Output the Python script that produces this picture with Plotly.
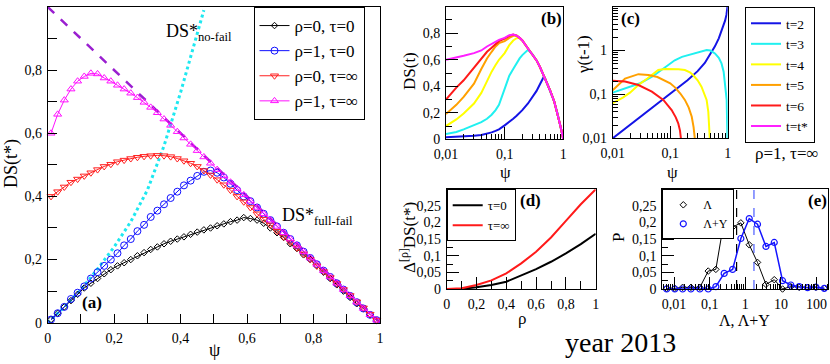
import plotly.graph_objects as go

FONT = "Liberation Serif, DejaVu Serif, serif"

# ---- panel (a): DS(t*) vs psi ----
psi_a = [0.01, 0.03, 0.05, 0.07, 0.09, 0.11, 0.13, 0.15, 0.17, 0.19,
         0.21, 0.23, 0.25, 0.27, 0.29, 0.31, 0.33, 0.35, 0.37, 0.39,
         0.41, 0.43, 0.45, 0.47, 0.49, 0.51, 0.53, 0.55, 0.57, 0.59,
         0.61, 0.63, 0.65, 0.67, 0.69, 0.71, 0.73, 0.75, 0.77, 0.79,
         0.81, 0.83, 0.85, 0.87, 0.89, 0.91, 0.93, 0.95, 0.97, 0.99]
ds_r0_t0 = [0.01, 0.03, 0.05, 0.07, 0.09, 0.11, 0.125, 0.14, 0.155, 0.168,
            0.18, 0.19, 0.20, 0.212, 0.222, 0.232, 0.24, 0.25, 0.258, 0.265,
            0.272, 0.28, 0.287, 0.294, 0.30, 0.307, 0.313, 0.32, 0.325, 0.333,
            0.33, 0.325, 0.315, 0.30, 0.285, 0.27, 0.25, 0.235, 0.215, 0.20,
            0.18, 0.16, 0.14, 0.12, 0.10, 0.08, 0.06, 0.045, 0.025, 0.008]
ds_r1_t0 = [0.01, 0.03, 0.05, 0.075, 0.095, 0.115, 0.14, 0.16, 0.18, 0.20,
            0.22, 0.245, 0.265, 0.29, 0.31, 0.335, 0.355, 0.375, 0.395, 0.415,
            0.435, 0.45, 0.465, 0.478, 0.482, 0.475, 0.46, 0.44, 0.42, 0.40,
            0.385, 0.365, 0.345, 0.325, 0.305, 0.285, 0.265, 0.245, 0.225, 0.205,
            0.185, 0.165, 0.145, 0.125, 0.105, 0.085, 0.065, 0.045, 0.025, 0.008]
ds_r0_tinf = [0.40, 0.415, 0.43, 0.445, 0.455, 0.465, 0.475, 0.485, 0.495, 0.502,
              0.51, 0.515, 0.52, 0.524, 0.527, 0.529, 0.53, 0.529, 0.526, 0.52,
              0.513, 0.505, 0.495, 0.482, 0.468, 0.453, 0.437, 0.42, 0.40, 0.383,
              0.365, 0.345, 0.328, 0.31, 0.29, 0.272, 0.255, 0.237, 0.218, 0.20,
              0.18, 0.162, 0.143, 0.124, 0.105, 0.086, 0.066, 0.047, 0.027, 0.008]
ds_r1_tinf = [0.60, 0.66, 0.705, 0.74, 0.765, 0.78, 0.79, 0.788, 0.775, 0.765,
              0.752, 0.74, 0.727, 0.713, 0.698, 0.682, 0.665, 0.645, 0.625, 0.605,
              0.585, 0.565, 0.545, 0.525, 0.505, 0.485, 0.465, 0.445, 0.425, 0.405,
              0.385, 0.365, 0.345, 0.325, 0.305, 0.285, 0.265, 0.245, 0.225, 0.205,
              0.185, 0.165, 0.145, 0.125, 0.105, 0.085, 0.065, 0.045, 0.025, 0.008]
full_fail_psi = [0.0, 1.0]
full_fail_ds = [1.0, 0.0]
no_fail_psi = [0.0, 0.05, 0.1, 0.15, 0.2, 0.25, 0.3, 0.35, 0.4, 0.45, 0.47]
no_fail_ds = [0.0, 0.05, 0.105, 0.17, 0.24, 0.32, 0.42, 0.56, 0.73, 0.92, 0.99]

# ---- panel (b): DS(t) vs psi, rho=1, tau=inf ----
psi_b = [0.01, 0.015, 0.02, 0.03, 0.04, 0.05, 0.06, 0.07, 0.08, 0.1,
         0.12, 0.14, 0.16, 0.18, 0.2, 0.25, 0.3, 0.35, 0.4, 0.45,
         0.47, 0.5, 0.6, 0.7, 0.8, 0.9, 0.95, 1.0]
ds_t2 = [0.015, 0.018, 0.021, 0.027, 0.033, 0.042, 0.052, 0.063, 0.075, 0.105,
         0.13, 0.155, 0.178, 0.2, 0.22, 0.27, 0.32, 0.365, 0.415, 0.46,
         0.475, 0.45, 0.365, 0.285, 0.19, 0.095, 0.045, 0.0]
ds_t3 = [0.04, 0.055, 0.075, 0.105, 0.13, 0.155, 0.185, 0.22, 0.26, 0.38,
         0.48, 0.53, 0.575, 0.61, 0.635, 0.675, 0.64, 0.595, 0.545, 0.495,
         0.475, 0.45, 0.365, 0.285, 0.19, 0.095, 0.045, 0.0]
ds_t4 = [0.10, 0.15, 0.195, 0.27, 0.35, 0.44, 0.51, 0.56, 0.60, 0.65,
         0.71, 0.745, 0.762, 0.765, 0.745, 0.685, 0.64, 0.595, 0.545, 0.495,
         0.475, 0.45, 0.365, 0.285, 0.19, 0.095, 0.045, 0.0]
ds_t5 = [0.19, 0.26, 0.32, 0.42, 0.53, 0.61, 0.66, 0.70, 0.725, 0.74,
         0.765, 0.78, 0.782, 0.765, 0.745, 0.685, 0.64, 0.595, 0.545, 0.495,
         0.475, 0.45, 0.365, 0.285, 0.19, 0.095, 0.045, 0.0]
ds_t6 = [0.30, 0.39, 0.445, 0.54, 0.61, 0.66, 0.69, 0.715, 0.74, 0.76,
         0.78, 0.79, 0.782, 0.765, 0.745, 0.685, 0.64, 0.595, 0.545, 0.495,
         0.475, 0.45, 0.365, 0.285, 0.19, 0.095, 0.045, 0.0]
ds_tstar = [0.60, 0.615, 0.63, 0.65, 0.67, 0.70, 0.72, 0.735, 0.75, 0.765,
            0.785, 0.79, 0.782, 0.765, 0.745, 0.685, 0.64, 0.595, 0.545, 0.495,
            0.475, 0.45, 0.365, 0.285, 0.19, 0.095, 0.045, 0.0]

# ---- panel (c): gamma(t-1) vs psi ----
psi_c2 = [0.01, 0.02, 0.05, 0.1, 0.2, 0.3, 0.4, 0.5, 0.6, 0.7, 0.8, 0.9, 0.95, 1.0]
gam_t2 = [0.01, 0.02, 0.05, 0.1, 0.21, 0.34, 0.52, 0.85, 1.25, 1.9, 3.0, 4.8, 6.5, 11.0]
psi_c3 = [0.01, 0.015, 0.02, 0.03, 0.05, 0.08, 0.1, 0.12, 0.16, 0.2, 0.27,
          0.35, 0.43, 0.5, 0.6, 0.7, 0.78, 0.85, 0.89, 0.93, 0.96, 0.99]
gam_t3 = [0.11, 0.13, 0.15, 0.18, 0.26, 0.4, 0.5, 0.6, 0.72, 0.78, 0.86,
          0.96, 1.03, 1.0, 0.86, 0.68, 0.51, 0.33, 0.21, 0.12, 0.075, 0.009]
psi_c4 = [0.01, 0.015, 0.02, 0.028, 0.04, 0.048, 0.062, 0.08, 0.106, 0.14,
          0.18, 0.22, 0.25, 0.3, 0.35, 0.4, 0.43, 0.46, 0.49]
gam_t4 = [0.063, 0.085, 0.11, 0.164, 0.23, 0.28, 0.36, 0.38, 0.38, 0.375,
          0.36, 0.32, 0.277, 0.21, 0.15, 0.1, 0.075, 0.04, 0.009]
psi_c5 = [0.01, 0.0164, 0.028, 0.042, 0.06, 0.081, 0.1, 0.121, 0.15, 0.18,
          0.21, 0.237, 0.255, 0.27]
gam_t5 = [0.125, 0.23, 0.29, 0.277, 0.25, 0.21, 0.18, 0.145, 0.105, 0.075,
          0.05, 0.031, 0.018, 0.009]
psi_c6 = [0.01, 0.0164, 0.028, 0.048, 0.076, 0.106, 0.125, 0.138, 0.148, 0.155]
gam_t6 = [0.206, 0.197, 0.164, 0.116, 0.075, 0.044, 0.03, 0.022, 0.015, 0.009]

# ---- panel (d): Delta DS vs rho ----
rho_d = [0.0, 0.1, 0.2, 0.3, 0.4, 0.5, 0.6, 0.7, 0.8, 0.9, 1.0]
delta_t0 = [0.0, 0.0005, 0.005, 0.012, 0.022, 0.04, 0.06, 0.082, 0.107, 0.135, 0.166]
delta_tinf = [0.0, 0.002, 0.012, 0.026, 0.047, 0.077, 0.112, 0.155, 0.205, 0.255, 0.30]

# ---- panel (e): distribution P ----
lam_x = [0.0062, 0.0105, 0.0174, 0.0297, 0.053, 0.091, 0.149, 0.255, 0.44, 0.75,
         1.29, 2.2, 3.8, 6.5, 11.1, 19, 32.6, 56, 96, 165]
p_lam = [0.002, 0.002, 0.005, 0.005, 0.005, 0.054, 0.059, 0.207, 0.186, 0.199,
         0.133, 0.08, 0.014, 0.028, 0.0, 0.007, 0.005, 0.005, 0.005, 0.002]
p_lam_y = [0.0, 0.0, 0.0, 0.0, 0.0, 0.0, 0.007, 0.047, 0.059, 0.152,
           0.212, 0.195, 0.128, 0.14, 0.025, 0.012, 0.007, 0.004, 0.006, 0.002]
mean_lam = 0.57
mean_lam_y = 1.75

lin_ticks_1 = [0, 0.2, 0.4, 0.6, 0.8, 1]
lin_text_1 = ["0", "0,2", "0,4", "0,6", "0,8", "1"]
d_yticks = [0, 0.05, 0.1, 0.15, 0.2, 0.25]
d_ytext = ["0", "0,05", "0,1", "0,15", "0,2", "0,25"]
log_ticks_b = [0.01, 0.1, 1]
log_text_b = ["0,01", "0,1", "1"]
log_ticks_c = [0.01, 0.1, 1, 10]
log_text_c = ["0,01", "0,1", "1", "10"]
log_ticks_e = [0.01, 0.1, 1, 10, 100]
log_text_e = ["0,01", "0,1", "1", "10", "100"]

fig = go.Figure()

# (a)
fig.add_trace(go.Scatter(x=full_fail_psi, y=full_fail_ds, mode="lines", showlegend=False,
                         line=dict(color="#9a1fd0", width=2.5, dash="dash"), xaxis="x", yaxis="y"))
fig.add_trace(go.Scatter(x=no_fail_psi, y=no_fail_ds, mode="lines", showlegend=False,
                         line=dict(color="#1ee8f0", width=3, dash="dot"), xaxis="x", yaxis="y"))
series_a = [
    (ds_r0_t0, "ρ=0, τ=0", "black", "diamond-open", 5),
    (ds_r1_t0, "ρ=1, τ=0", "#1010ff", "circle-open", 7),
    (ds_r0_tinf, "ρ=0, τ=∞", "#ff2020", "triangle-down-open", 7),
    (ds_r1_tinf, "ρ=1, τ=∞", "#ff10ff", "triangle-up-open", 7),
]
for ys, name, col, sym, sz in series_a:
    fig.add_trace(go.Scatter(x=psi_a, y=ys, name=name, mode="lines+markers", cliponaxis=False,
                             line=dict(color=col, width=1),
                             marker=dict(symbol=sym, size=sz, color=col, line=dict(width=1, color=col)),
                             xaxis="x", yaxis="y", legend="legend"))

# (b) and (c)
curves_b = [(ds_t2, "t=2", "#1414e6"), (ds_t3, "t=3", "#20f0f0"), (ds_t4, "t=4", "#ffff00"),
            (ds_t5, "t=5", "#ffa000"), (ds_t6, "t=6", "#ff1a1a"), (ds_tstar, "t=t*", "#ff20ff")]
for ys, name, col in curves_b:
    fig.add_trace(go.Scatter(x=psi_b, y=ys, name=name, mode="lines",
                             line=dict(color=col, width=2), xaxis="x2", yaxis="y2", legend="legend2"))
curves_c = [(psi_c2, gam_t2, "#1414e6"), (psi_c3, gam_t3, "#20f0f0"), (psi_c4, gam_t4, "#ffff00"),
            (psi_c5, gam_t5, "#ffa000"), (psi_c6, gam_t6, "#ff1a1a")]
for xs, ys, col in curves_c:
    fig.add_trace(go.Scatter(x=xs, y=ys, mode="lines", showlegend=False,
                             line=dict(color=col, width=2), xaxis="x3", yaxis="y3"))

# (d)
fig.add_trace(go.Scatter(x=rho_d, y=delta_t0, name="τ=0", mode="lines", line=dict(color="black", width=2),
                         xaxis="x4", yaxis="y4", legend="legend3"))
fig.add_trace(go.Scatter(x=rho_d, y=delta_tinf, name="τ=∞", mode="lines", line=dict(color="#ff1a1a", width=2),
                         xaxis="x4", yaxis="y4", legend="legend3"))

# (e)
fig.add_trace(go.Scatter(x=[mean_lam, mean_lam], y=[0, 0.3], mode="lines", showlegend=False,
                         line=dict(color="black", width=1.2, dash="dash"), xaxis="x5", yaxis="y5"))
fig.add_trace(go.Scatter(x=[mean_lam_y, mean_lam_y], y=[0, 0.3], mode="lines", showlegend=False,
                         line=dict(color="#4a5cff", width=1.2, dash="dash"), xaxis="x5", yaxis="y5"))
fig.add_trace(go.Scatter(x=lam_x, y=p_lam, mode="lines+markers", showlegend=False, cliponaxis=False,
                         line=dict(color="black", width=1),
                         marker=dict(symbol="diamond-open", size=5, color="black", line=dict(width=1)),
                         xaxis="x5", yaxis="y5"))
fig.add_trace(go.Scatter(x=lam_x, y=p_lam_y, mode="lines+markers", showlegend=False, cliponaxis=False,
                         line=dict(color="#1414ff", width=1.5),
                         marker=dict(symbol="circle-open", size=6, color="#1414ff", line=dict(width=1.2)),
                         xaxis="x5", yaxis="y5"))
fig.add_trace(go.Scatter(x=[None], y=[None], name="Λ", mode="markers",
                         marker=dict(symbol="diamond-open", size=5, color="black", line=dict(width=1)),
                         xaxis="x5", yaxis="y5", legend="legend4"))
fig.add_trace(go.Scatter(x=[None], y=[None], name="Λ+Y", mode="markers",
                         marker=dict(symbol="circle-open", size=6, color="#1414ff", line=dict(width=1.2)),
                         xaxis="x5", yaxis="y5", legend="legend4"))


def axis(domain, anchor, **kw):
    base = dict(domain=domain, anchor=anchor, showline=True, mirror=True, linecolor="black", linewidth=1,
                ticks="inside", ticklen=9, tickcolor="black", showgrid=False, zeroline=False,
                automargin=False, ticklabelstandoff=2,
                tickfont=dict(family=FONT, size=14, color="black"), tickmode="array")
    base.update(kw)
    return base


def minor_lin(step, length=5):
    return dict(ticks="inside", ticklen=length, tickcolor="black", showgrid=False, dtick=step)


minor_log = dict(ticks="inside", ticklen=5, tickcolor="black", showgrid=False, dtick="D1")

W, H = 830, 364


def dx(a, b):
    return [a / W, b / W]


def dy(top, bottom):
    return [1 - bottom / H, 1 - top / H]


def box_legend(px, py, size, **kw):
    d = dict(x=px / W, y=1 - py / H, xanchor="left", yanchor="top", bgcolor="white",
             bordercolor="black", borderwidth=1, font=dict(family=FONT, size=size, color="black"))
    d.update(kw)
    return d


fig.update_layout(
    width=W, height=H, autosize=False,
    margin=dict(l=0, r=0, t=0, b=0),
    paper_bgcolor="white", plot_bgcolor="white",
    font=dict(family=FONT, color="black"),
    xaxis=axis(dx(47.7, 380), "y", range=[0, 1], tickvals=lin_ticks_1, ticktext=lin_text_1,
               minor=minor_lin(0.1, 9)),
    yaxis=axis(dy(7, 322.7), "x", range=[0, 1], tickvals=lin_ticks_1, ticktext=lin_text_1,
               minor=minor_lin(0.1, 9)),
    xaxis2=axis(dx(446, 563.3), "y2", type="log", range=[-2, 0], tickvals=log_ticks_b, ticktext=log_text_b,
                ticklen=12, minor=minor_log),
    yaxis2=axis(dy(6.7, 139.3), "x2", range=[0, 1], tickvals=lin_ticks_1, ticktext=lin_text_1,
                ticklen=12, minor=minor_lin(0.1, 6)),
    xaxis3=axis(dx(612.7, 727.7), "y3", type="log", range=[-2, 0], tickvals=log_ticks_b, ticktext=log_text_b,
                ticklen=12, minor=minor_log),
    yaxis3=axis(dy(6.7, 138.3), "x3", type="log", range=[-2, 1], tickvals=log_ticks_c, ticktext=log_text_c,
                ticklen=12, minor=minor_log),
    xaxis4=axis(dx(446.7, 595.7), "y4", range=[0, 1], tickvals=lin_ticks_1, ticktext=lin_text_1,
                ticklen=12, minor=minor_lin(0.1, 8)),
    yaxis4=axis(dy(189.3, 289), "x4", range=[0, 0.3], tickvals=d_yticks, ticktext=d_ytext,
                ticklen=12, minor=minor_lin(0.025, 6)),
    xaxis5=axis(dx(662.3, 828.3), "y5", type="log", range=[-2.33, 2.33], tickvals=log_ticks_e,
                ticktext=log_text_e, ticklen=12, minor=minor_log),
    yaxis5=axis(dy(189.3, 289), "x5", range=[0, 0.3], tickvals=d_yticks, ticktext=d_ytext,
                ticklen=12, minor=minor_lin(0.025, 6)),
    legend=box_legend(253.5, 7, 17, tracegroupgap=0),
    legend2=box_legend(745, 7, 13.5),
    legend3=box_legend(446.7, 189.3, 13),
    legend4=box_legend(662.3, 189.3, 12, itemwidth=30),
)


def note(text, px, py, size=17, angle=0, bold=False, xanchor="center"):
    t = "<b>%s</b>" % text if bold else text
    fig.add_annotation(text=t, x=px / W, y=1 - py / H, xref="paper", yref="paper",
                       showarrow=False, textangle=angle, xanchor=xanchor, yanchor="middle",
                       font=dict(family=FONT, size=size, color="black"))


note("(a)", 92, 302, bold=True)
note("(b)", 551, 18, bold=True)
note("(c)", 630, 18, bold=True)
note("(d)", 530, 200, bold=True)
note("(e)", 817, 200, bold=True)
note("DS(t*)", 12, 164, size=18, angle=-90)
note("ψ", 215, 350, size=18)
note("DS(t)", 410, 71, size=17, angle=-90)
note("ψ", 505, 172, size=17)
note("γ(t-1)", 583, 55, size=17, angle=-90)
note("ψ", 672, 172, size=17)
note("Δ<sup>[ρ]</sup>DS(t*)", 408, 238, size=17, angle=-90)
note("ρ", 522, 318, size=17)
note("P", 618, 238, size=17, angle=-90)
note("Λ, Λ+Y", 744, 320, size=16)
note("ρ=1, τ=∞", 787, 153, size=17)
note("year 2013", 620, 342, size=28)

fig.add_annotation(text="DS*<sub>no-fail</sub>", x=0.35, y=0.92, xref="x", yref="y", showarrow=False,
                   xanchor="left", yanchor="middle", font=dict(family=FONT, size=18, color="black"))
fig.add_annotation(text="DS*<sub>full-fail</sub>", x=0.70, y=0.335, xref="x", yref="y", showarrow=False,
                   xanchor="left", yanchor="middle", font=dict(family=FONT, size=18, color="black"))

# drop the page's default body margin so the figure sits at the window's corner
fig.write_html("out.html", config={"displayModeBar": False},
               post_script="document.body.style.margin='0';document.body.style.overflow='hidden';")
